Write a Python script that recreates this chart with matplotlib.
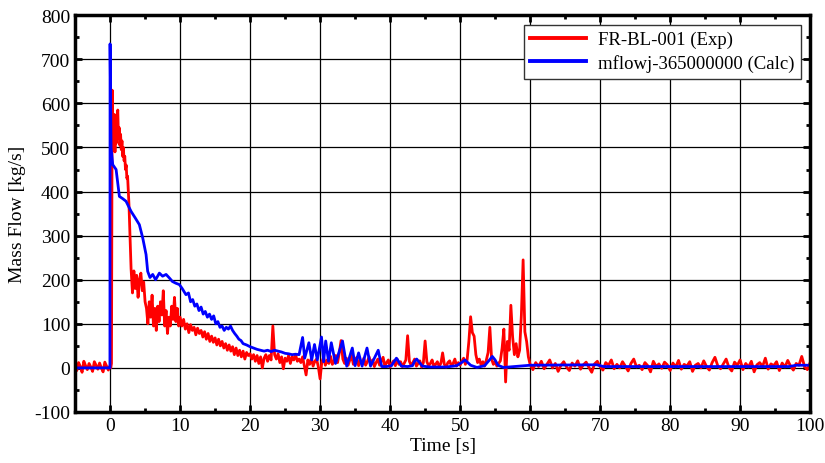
import numpy as np
import matplotlib
matplotlib.use("Agg")
import matplotlib.pyplot as plt
from matplotlib.ticker import MultipleLocator

exp_v_pre = [8, -6, 12, 3, -10, 15, 5, -4, 10, 2, -8, 14, 6, -3, 11, 0, -9, 13, 4, -5]
exp_v_peak = [5, 0, 10, 630, 540, 500, 575, 490, 560, 510, 570, 585, 520, 545, 505, 530,
              495, 515, 480, 500, 470, 480, 450, 460, 430, 435, 400, 370, 320, 270, 225]
exp_v_early = [170, 220, 180, 210, 160, 200, 215, 175, 195, 150,
               135, 100, 150, 115, 165, 95, 135, 85, 140, 105, 150, 120, 175, 95, 130,
               78, 115, 95, 140, 110, 160, 105, 135, 95, 115]
exp_v_decay = [95, 110, 88, 100, 80, 98, 85, 92, 75, 90, 78, 85, 70, 82, 65, 78, 60, 72, 58, 68,
               52, 65, 50, 60, 45, 55, 40, 52, 38, 48, 30, 45, 28, 40, 25, 38, 20, 35, 28, 32,
               20, 30, 15, 28, 10, 25, 0, 22, 30, 15, 28, 18, 95, 30, 20, 32, 12, 25, -2, 22,
               15, 28, 10, 25, 18, 30, 15, 20]
exp_v_mid = [12, 25, 5,
             -16, 18, 8, 22, 4, 15, 20, 2, -25, 14, 24, 6, 18, 10, 26, 8,
             16, 28, 12, 35, 62, 20, 10, 22, 6, 18, 28, 8, 15, 24, 5, 16,
             10, 22, 6, 14, 25, 8, 18, 3, 12, 20, 6, 15, 24, 4, 12, 18,
             2, 10, 16, 5, 20, 8, 14, 3, 10, 18, 73, 15, 6, 12, 20, 4,
             10, 16, 2, 12, 61, 14, 5, 10, 18, 3, 8, 14, 4, 10, 34, 8,
             2, 12, 16, 5, 10, 20, 4, 12, 6, 15, 22, 8, 18, 60, 116, 80,
             72, 30, 12, 20, 6, 14, 4, 18, 35, 92, 20, 8, 14, 4, 10, 16,
             45, 88, -32, 60, 40, 142, 70, 30, 55, 25, 40, 120, 245, 82, 60, 25,
             8]
exp_v_late = [-4, 12, 3, 15, -2, 8, 18, 0, 10, -8, 6, 14, 2, -6, 11, 4, 16, -3, 7, 13,
              1, -10, 9, 15, 3, -5, 12, 6, 18, -2, 8, 0, 14, 4, -7, 10, 20, 2, 6, -4,
              12, 5, -9, 15, 3, 9, -1, 13, 7, -6, 11, 2, 17, -3, 8, 4, 14, -8, 6, 10,
              0, 16, 3, -5, 12, 24, 5, -2, 9, 20, 1, -7, 13, 6, 18, -4, 10, 2, 15, -9,
              7, 12, 3, 22, -3, 9, 5, 14, -6, 11, 2, 17, 4, -5, 10, 6, 26, 3, -4, 12]

exp_t = np.concatenate([
    np.arange(-5, -0.01, 0.25),
    np.arange(0, 3.05, 0.1),
    np.arange(3.2, 10.05, 0.2),
    np.arange(10.25, 27.01, 0.25),
    np.arange(27.25, 60.01, 0.25),
    np.arange(60.4, 100.01, 0.4),
])
exp_v = np.array(exp_v_pre + exp_v_peak + exp_v_early + exp_v_decay + exp_v_mid + exp_v_late)

# calculated (Calc)
calc_t = [-5, -0.02, 0.0, 0.14, 0.38, 0.86, 1.33, 1.8, 2.28, 3.0, 3.6, 4.18, 4.66, 5.14, 5.37,
          5.7, 6.09, 6.5, 7.04, 7.5, 8.0, 8.47, 8.9, 9.4, 9.9, 10.3, 10.84, 11.2, 11.5, 11.8,
          12.1, 12.4, 12.7, 13.0, 13.3, 13.6, 13.9, 14.2, 14.5, 14.8, 15.1, 15.4, 15.7, 16.0,
          16.3, 16.6, 16.9, 17.2, 17.5, 17.8, 18.1, 18.4, 18.7, 19.0, 19.5, 20.0, 20.5, 21.0,
          21.5, 22.0, 22.5, 23.0, 23.5, 24.0, 24.5, 25.0, 25.5, 26.0, 26.5, 27.0,
          27.5, 27.8, 28.4, 28.8, 29.2, 29.6, 30.2, 30.5, 30.8, 31.2, 31.6, 32.2, 33.2, 33.8,
          34.6, 35.0, 35.5, 36.0, 36.7, 37.2, 38.3, 38.8, 39.5, 40.2, 40.6, 40.9, 41.2, 41.6,
          42.5, 43.2, 43.5, 43.8, 44.1, 44.6, 45.7, 48.0, 49.5, 50.2, 50.7, 51.1, 51.5, 52.4,
          53.5, 54.2, 54.6, 55.0, 55.4, 56.2, 60.0, 69.5, 70.5, 97.0, 98.0, 100.0]
calc_v = [0, 0, 735, 499, 461, 450, 389, 384, 378, 355, 340, 325, 295, 257, 219,
          205, 212, 200, 215, 208, 212, 204, 196, 192, 189, 180, 166, 170, 150, 155,
          140, 145, 130, 138, 122, 128, 115, 122, 110, 118, 100, 105, 92, 95,
          85, 92, 88, 95, 85, 78, 72, 65, 62, 55, 52, 48, 45, 42,
          40, 38, 40, 37, 40, 38, 36, 33, 32, 30, 31, 30,
          69, 22, 57, 18, 53, 18, 70, 14, 61, 15, 57, 10, 61, 4,
          45, 5, 34, 4, 45, 4, 40, 3, 3, 5, 15, 22, 15, 4,
          3, 5, 15, 20, 14, 4, 2, 2, 5, 12, 18, 12, 6, 1,
          5, 18, 26, 18, 6, 1, 6, 7, 3, 3, 6, 6]

plt.rcParams['font.family'] = ['Liberation Serif', 'DejaVu Serif']
plt.rcParams['axes.unicode_minus'] = False

fig = plt.figure(figsize=(8.25, 4.64), dpi=100)
ax = fig.add_axes([0.091, 0.11, 0.891, 0.855])

ax.plot(exp_t, exp_v, color='#ff0000', lw=2.0, label='FR-BL-001 (Exp)')
ax.plot(calc_t, calc_v, color='#0000ff', lw=2.0, label='mflowj-365000000 (Calc)')

ax.set_xlim(-5, 100)
ax.set_ylim(-100, 800)
ax.xaxis.set_major_locator(MultipleLocator(10))
ax.xaxis.set_minor_locator(MultipleLocator(5))
ax.yaxis.set_major_locator(MultipleLocator(100))
ax.yaxis.set_minor_locator(MultipleLocator(50))
ax.grid(True, which='major', color='black', lw=0.9)
ax.tick_params(which='both', direction='in', top=True, right=True, labelsize=14, width=2)
ax.tick_params(which='major', length=5)
ax.tick_params(which='minor', length=3)
for s in ax.spines.values():
    s.set_linewidth(2.5)

ax.set_xlabel('Time [s]', fontsize=14, labelpad=2)
ax.set_ylabel('Mass Flow [kg/s]', fontsize=14, labelpad=6)

leg = ax.legend(loc='upper right', fontsize=13.5, fancybox=False, edgecolor='#333333',
                framealpha=1, handlelength=3.0, borderaxespad=0.5,
                borderpad=0.35, labelspacing=0.3, handletextpad=0.6)
leg.get_frame().set_linewidth(1.0)
for line in leg.get_lines():
    line.set_linewidth(2.8)

plt.savefig('out.png', dpi=100)
